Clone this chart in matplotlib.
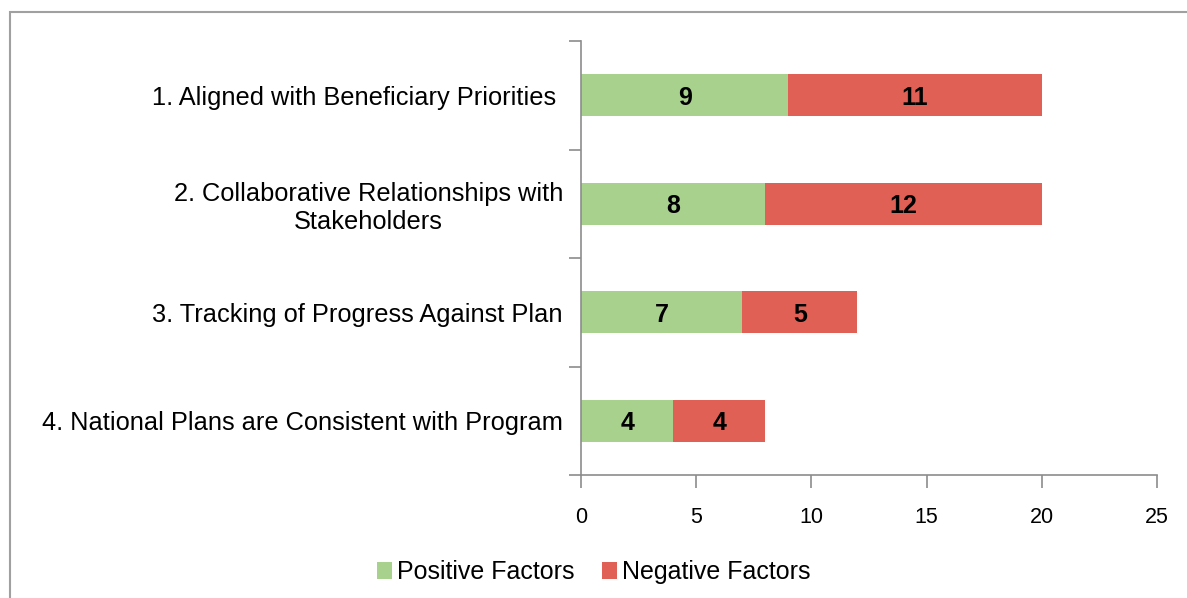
"""
    Positive / negative factors by criterion - stacked horizontal bars
"""

from matplotlib import pyplot as plt
from matplotlib.patches import Rectangle
import numpy as np

categories = [
    "1. Aligned with Beneficiary Priorities ",
    "2. Collaborative Relationships with\nStakeholders",
    "3. Tracking of Progress Against Plan",
    "4. National Plans are Consistent with Program",
]
positive = [9, 8, 7, 4]
negative = [11, 12, 5, 4]
x_ticks = [0, 5, 10, 15, 20, 25]

GREEN = "#A9D18E"
RED = "#E06055"
AXIS = "#8C8C8C"

plt.rcParams["font.family"] = ["Liberation Sans", "DejaVu Sans"]


def draw_fig():
    fig = plt.figure(figsize=(11.87, 5.98), dpi=100)
    ax = fig.add_axes([581 / 1187, 1 - 475 / 598, (1157 - 581) / 1187, (475 - 41) / 598])

    # outer frame (only left and top edges fall inside the picture)
    fig.patches.append(Rectangle((10 / 1187, -0.1), 1.2, 1 - 12 / 598 + 0.1,
                                 transform=fig.transFigure, fill=False,
                                 edgecolor="#A0A0A0", linewidth=1.5))

    y = np.arange(len(categories))
    bar_h = 0.39
    ax.barh(y, positive, height=bar_h, color=GREEN, label="Positive Factors")
    ax.barh(y, negative, left=positive, height=bar_h, color=RED, label="Negative Factors")

    for yi, p, n in zip(y, positive, negative):
        ax.text(p / 2, yi, str(p), ha="center", va="center_baseline",
                fontsize=18, fontweight="bold")
        ax.text(p + n / 2, yi, str(n), ha="center", va="center_baseline",
                fontsize=18, fontweight="bold")

    ax.set_xlim(0, 25)
    ax.set_ylim(len(categories) - 0.5, -0.5)
    ax.set_xticks(x_ticks)
    ax.set_xticklabels([str(t) for t in x_ticks], fontsize=15.5)
    ax.set_yticks(y)
    ax.set_yticklabels(categories, fontsize=18.3, multialignment="center")
    ax.set_yticks(np.arange(-0.5, len(categories), 1.0), minor=True)

    ax.tick_params(axis="y", which="major", length=0, pad=13)
    ax.tick_params(axis="y", which="minor", length=9, color=AXIS, width=1.2)
    ax.tick_params(axis="x", length=9, color=AXIS, width=1.2, pad=14)

    for side in ["top", "right"]:
        ax.spines[side].set_visible(False)
    for side in ["left", "bottom"]:
        ax.spines[side].set_color(AXIS)
        ax.spines[side].set_linewidth(1.2)

    fig.legend(loc="center", bbox_to_anchor=(0.5, 1 - 572 / 598), ncol=2, frameon=False,
               fontsize=18, handlelength=0.6, handleheight=0.7, handletextpad=0.2,
               columnspacing=1.1)

    plt.savefig("out.png", dpi=100)


if __name__ == "__main__":
    draw_fig()
